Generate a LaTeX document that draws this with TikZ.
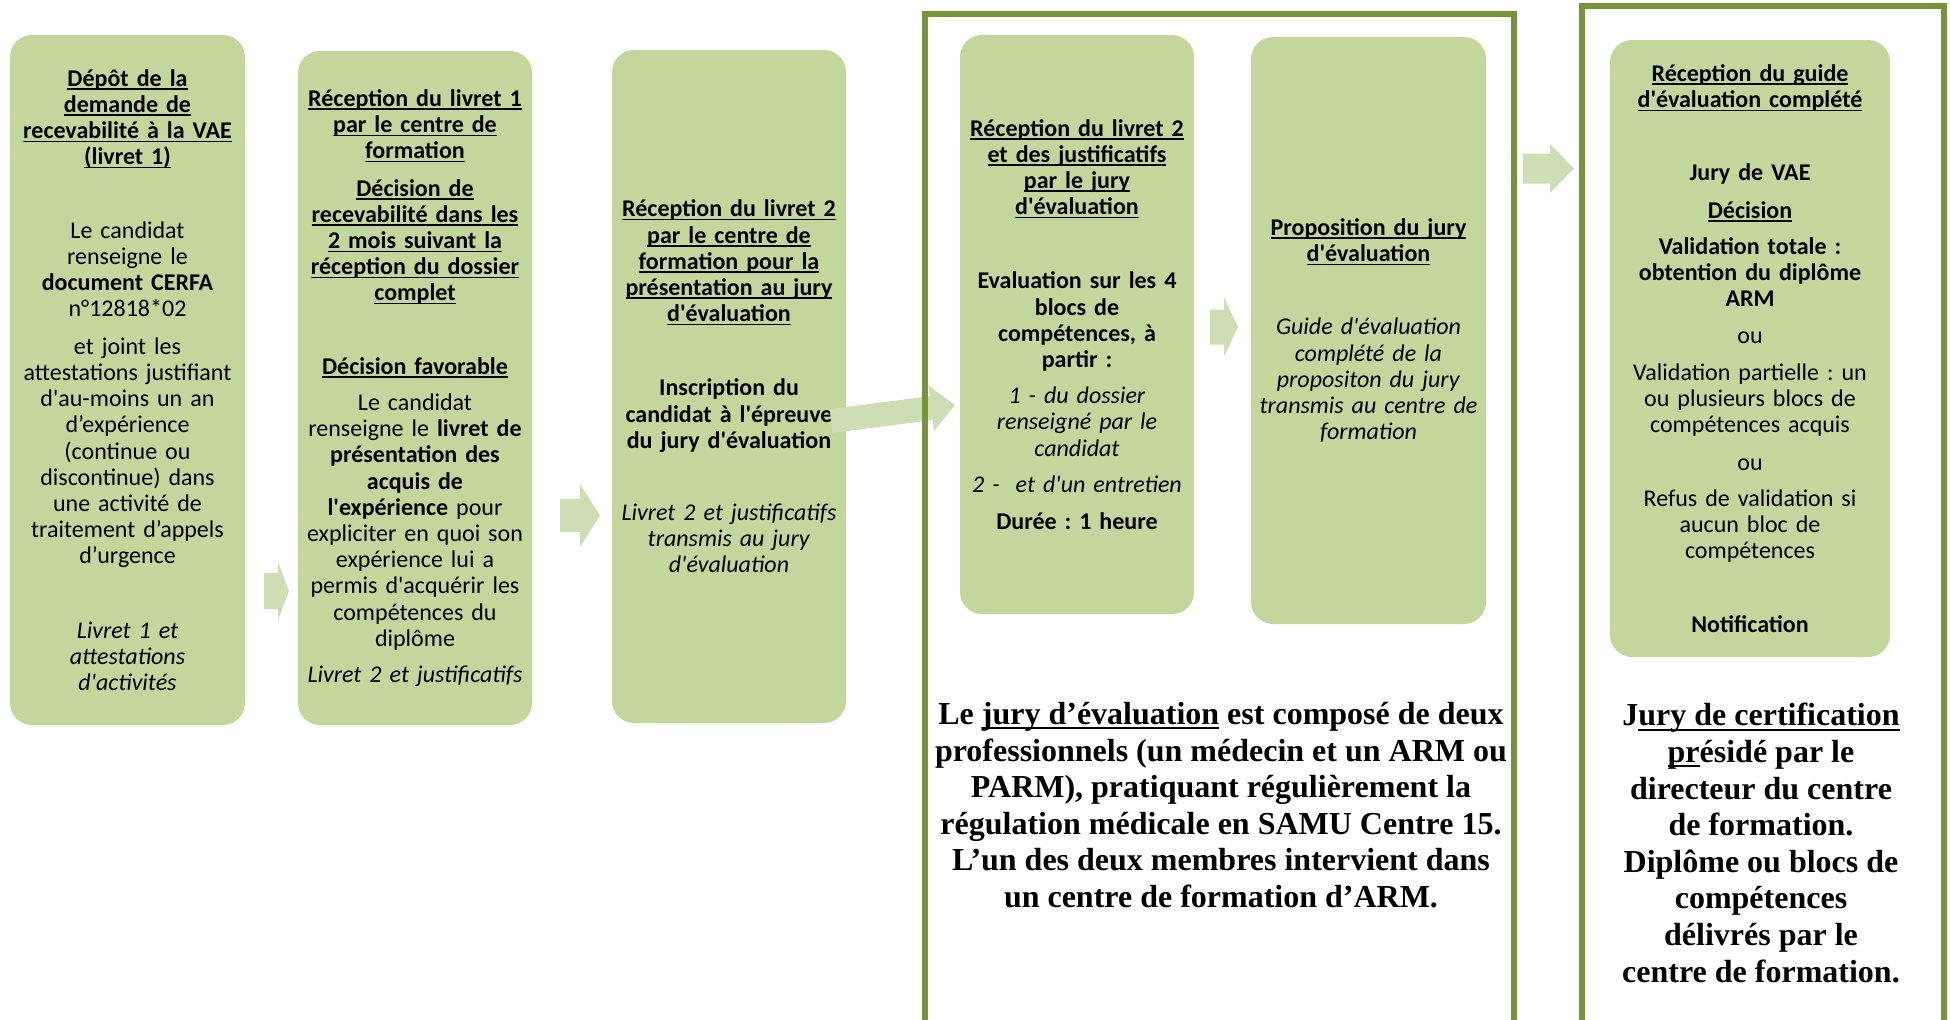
\documentclass[tikz,border=0pt]{standalone}
\usepackage{fontspec}
\setmainfont{Carlito}[Ligatures=TeXOff]
\newfontfamily\timesbf{Liberation Serif}[Ligatures=TeXOff]
\usetikzlibrary{calc}

\definecolor{vertcase}{HTML}{C3D69B}
\definecolor{vertcadre}{HTML}{77933C}
\definecolor{vertfleche}{HTML}{CDDDB4}

% 下划线
\newsavebox{\soulbox}
\newcommand{\souligne}[1]{\sbox{\soulbox}{#1}%
  \rlap{\rule[-0.15em]{\wd\soulbox}{0.065em}}\usebox{\soulbox}}
\newcommand{\titre}[1]{\textbf{\souligne{#1}}}

\tikzset{
  etape/.style={fill=vertcase, rounded corners=11pt, align=center,
    inner xsep=3pt, inner ysep=0pt, font=\fontsize{12}{13.1}\selectfont},
  cadre/.style={draw=vertcadre, line width=3pt},
  note/.style={align=center, inner sep=0pt,
    font=\timesbf\bfseries\fontsize{16}{18.3}\selectfont},
  pics/fleche/.style n args={4}{code={
    \fill[vertfleche] (0,-#2) -- ({#1-#4},-#2) -- ({#1-#4},-#3) -- (#1,0)
      -- ({#1-#4},#3) -- ({#1-#4},#2) -- (0,#2) -- cycle;}},
}

\frenchspacing

\begin{document}
\begin{tikzpicture}[x=0.5pt, y=-0.5pt]

\useasboundingbox (0,0) rectangle (1950,1019);

% 六个步骤框
\node[etape, text width=111.5pt, minimum height=345pt] (b1) at (127.5,380) {%
\titre{Dépôt de la}\\ \titre{demande de}\\ \titre{recevabilité à la VAE}\\ \titre{(livret 1)}\\[23.6pt]
Le candidat\\ renseigne le\\ \textbf{document CERFA}\\ n°12818*02\\[5.6pt]
et joint les\\ attestations justifiant\\ d'au-moins un an\\ d’expérience\\ (continue ou\\ discontinue) dans\\ une activité de\\ traitement d’appels\\ d’urgence\\[24pt]
\textit{Livret 1 et}\\ \textit{attestations}\\ \textit{d'activités}};

\node[etape, text width=111pt, minimum height=337pt] (b2) at (415,388) {%
\titre{Réception du livret 1}\\ \titre{par le centre de}\\ \titre{formation}\\[5.6pt]
\titre{Décision de}\\ \titre{recevabilité dans les}\\ \titre{2 mois suivant la}\\ \titre{réception du dossier}\\ \titre{complet}\\[23.6pt]
\titre{Décision favorable}\\[5pt]
Le candidat\\ renseigne le \textbf{livret de}\\ \textbf{présentation des}\\ \textbf{acquis de}\\ \textbf{l'expérience} pour\\ expliciter en quoi son\\ expérience lui a\\ permis d'acquérir les\\ compétences du\\ diplôme\\[5pt]
\textit{Livret 2 et justificatifs}};

\node[etape, text width=111pt, minimum height=336.5pt] (b3) at (729,386.5) {%
\titre{Réception du livret 2}\\ \titre{par le centre de}\\ \titre{formation pour la}\\ \titre{présentation au jury}\\ \titre{d'évaluation}\\[24pt]
\textbf{Inscription du}\\ \textbf{candidat à l'épreuve}\\ \textbf{du jury d'évaluation}\\[23pt]
\textit{Livret 2 et justificatifs}\\ \textit{transmis au jury}\\ \textit{d'évaluation}};

\node[etape, text width=111pt, minimum height=289.5pt] (b4) at (1077,324.5) {%
\titre{Réception du livret 2}\\ \titre{et des justificatifs}\\ \titre{par le jury}\\ \titre{d'évaluation}\\[24pt]
\textbf{Evaluation sur les 4}\\ \textbf{blocs de}\\ \textbf{compétences, à}\\ \textbf{partir :}\\[5pt]
\textit{1 - du dossier}\\ \textit{renseigné par le}\\ \textit{candidat}\\[5pt]
\textit{2 -\ \ et d'un entretien}\\[5.6pt]
\textbf{Durée : 1 heure}};

\node[etape, text width=111.5pt, minimum height=293.5pt] (b5) at (1368.5,330.5) {%
\titre{Proposition du jury}\\ \titre{d'évaluation}\\[23.6pt]
\textit{Guide d'évaluation}\\ \textit{complété de la}\\ \textit{propositon du jury}\\ \textit{transmis au centre de}\\ \textit{formation}};

\node[etape, text width=134pt, minimum height=308.5pt] (b6) at (1750,348.5) {%
\titre{Réception du guide}\\ \titre{d'évaluation complété}\\[23.6pt]
\textbf{Jury de VAE}\\[5.6pt]
\titre{Décision}\\[5pt]
\textbf{Validation totale :}\\ \textbf{obtention du diplôme}\\ \textbf{ARM}\\[5pt]
ou\\[5.6pt]
Validation partielle : un\\ ou plusieurs blocs de\\ compétences acquis\\[5.6pt]
ou\\[5pt]
Refus de validation si\\ aucun bloc de\\ compétences\\[23.6pt]
\textbf{Notification}};

% 箭头起点
\coordinate (f1) at (264,591);
\coordinate (f2) at (560,515.5);
\coordinate (f3) at (831,421);
\coordinate (f4) at (1210,327);
\coordinate (f5) at (1523,168.5);

% 绘制箭头
\pic at (f1) {fleche={25}{18}{29}{11}};
\pic at (f2) {fleche={40}{16.5}{31.5}{20}};
\pic[rotate=7.35] at (f3) {fleche={125}{12}{23}{24}};
\pic at (f4) {fleche={28}{17.5}{29.5}{14}};
\pic at (f5) {fleche={51}{15}{24.5}{24}};

% 两个绿色框
\draw[cadre] (925,1025) -- (925,14) -- (1514,14) -- (1514,1025);
\draw[cadre] (1582,1025) -- (1582,6) -- (1944,6) -- (1944,1025);

% 下方说明
\node[note] (jury1) at (1221,805) {Le \souligne{jury d’évaluation} est composé de deux\\ professionnels (un médecin et un ARM ou\\ PARM), pratiquant régulièrement la\\ régulation médicale en SAMU Centre 15.\\ L’un des deux membres intervient dans\\ un centre de formation d’ARM.};
\node[note] (jury2) at (1761,843) {J\souligne{ury de certification}\\ \souligne{pr}ésidé par le\\ directeur du centre\\ de formation.\\ Diplôme ou blocs de\\ compétences\\ délivrés par le\\ centre de formation.};

\end{tikzpicture}
\end{document}
